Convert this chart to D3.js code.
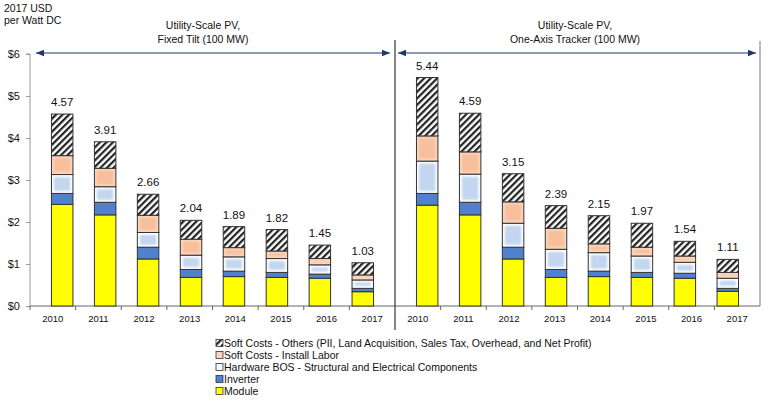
<!DOCTYPE html>
<html><head><meta charset="utf-8">
<script src="https://cdn.jsdelivr.net/npm/d3@7"></script>
<style>body{margin:0;background:#fff}svg{display:block;font-family:"Liberation Sans",Arial,sans-serif}</style>
</head><body><svg id="c" width="768" height="402"></svg>
<script>
const years = ["2010","2011","2012","2013","2014","2015","2016","2017"];
const panels = ["Utility-Scale PV,|Fixed Tilt (100 MW)", "Utility-Scale PV,|One-Axis Tracker (100 MW)"];
const seriesNames = ["Module","Inverter","Hardware BOS - Structural and Electrical Components","Soft Costs - Install Labor","Soft Costs - Others (PII, Land Acquisition, Sales Tax, Overhead, and Net Profit)"];
// Fixed tilt
const fixedModule   = [2.42,2.17,1.12,0.68,0.70,0.68,0.66,0.34];
const fixedInverter = [0.26,0.30,0.28,0.19,0.13,0.12,0.10,0.08];
const fixedBOS      = [0.45,0.37,0.35,0.34,0.34,0.33,0.22,0.20];
const fixedLabor    = [0.45,0.44,0.41,0.38,0.22,0.18,0.15,0.12];
const fixedOthers   = [0.99,0.63,0.50,0.45,0.50,0.51,0.32,0.29];
const fixedTotals   = [4.57,3.91,2.66,2.04,1.89,1.82,1.45,1.03];
// One-axis tracker
const trackModule   = [2.40,2.17,1.12,0.68,0.70,0.68,0.66,0.35];
const trackInverter = [0.28,0.30,0.28,0.19,0.13,0.12,0.12,0.07];
const trackBOS      = [0.77,0.67,0.57,0.48,0.44,0.39,0.26,0.24];
const trackLabor    = [0.60,0.53,0.51,0.50,0.21,0.21,0.15,0.14];
const trackOthers   = [1.39,0.92,0.67,0.54,0.67,0.57,0.35,0.31];
const trackTotals   = [5.44,4.59,3.15,2.39,2.15,1.97,1.54,1.11];
const yTicks = [0,1,2,3,4,5,6];

const svg = d3.select("#c");
const defs = svg.append("defs");
const hp = defs.append("pattern").attr("id","hatch").attr("patternUnits","userSpaceOnUse")
  .attr("width",4.6).attr("height",4.6).attr("patternTransform","rotate(45)");
hp.append("rect").attr("width",4.6).attr("height",4.6).attr("fill","#fff");
hp.append("rect").attr("x",0).attr("width",2.2).attr("height",4.6).attr("fill","#222");
defs.append("filter").attr("id","blur").attr("x","-20%").attr("y","-20%").attr("width","140%").attr("height","140%")
  .append("feGaussianBlur").attr("stdDeviation",1.1);

const y = d3.scaleLinear().domain([0,6]).range([306,54]);
const x0 = 30, x1 = 395, x2 = 760;
const xs = [d3.scaleBand().domain(years).range([x0,x1]).padding(0.5),
            d3.scaleBand().domain(years).range([x1,x2]).padding(0.5)];
const xsOuter = [d3.scaleBand().domain(years).range([x0,x1]),
                 d3.scaleBand().domain(years).range([x1,x2])];

const styles = [
  {base:"#FFFF00", inner:null},
  {base:"#4F81CF", inner:null},
  {base:"#FFFFFF", inner:"#C2D6EF"},
  {base:"#FBD6BC", inner:"#F7BF9B"},
  {base:"url(#hatch)", inner:null}
];
const data = [
  [fixedModule,fixedInverter,fixedBOS,fixedLabor,fixedOthers],
  [trackModule,trackInverter,trackBOS,trackLabor,trackOthers]
];
const totals = [fixedTotals, trackTotals];

// y axis
const yAxis = d3.axisLeft(y).tickValues(yTicks).tickFormat(d=>"$"+d).tickSize(4).tickPadding(6);
const ya = svg.append("g").attr("transform",`translate(${x0},0)`).call(yAxis);
ya.select(".domain").attr("stroke","#999").attr("d",`M-4,${y(6)}H0V${y(0)}`);
ya.selectAll(".tick line").attr("stroke","#999");
ya.selectAll("text").attr("font-size",11).attr("fill","#111").attr("font-family","Liberation Sans, Arial");

// x axis
svg.append("line").attr("x1",x0).attr("x2",x2).attr("y1",y(0)).attr("y2",y(0)).attr("stroke","#666");
[0,1].forEach(p=>{
  const xo = xsOuter[p];
  years.forEach((yr,i)=>{
    if(i>0) svg.append("line").attr("x1",xo(yr)).attr("x2",xo(yr)).attr("y1",y(0)).attr("y2",y(0)+4).attr("stroke","#666");
    svg.append("text").attr("x",xo(yr)+xo.bandwidth()/2).attr("y",y(0)+16).attr("text-anchor","middle")
      .attr("font-size",9.5).attr("fill","#111").text(yr);
  });
});
svg.append("line").attr("x1",x0).attr("x2",x0).attr("y1",y(0)).attr("y2",y(0)+4).attr("stroke","#666");

// bars
[0,1].forEach(p=>{
  const xb = xs[p];
  const g = svg.append("g");
  years.forEach((yr,i)=>{
    let cum = 0;
    data[p].forEach((ser,s)=>{
      const v = ser[i];
      const yt = y(cum+v), yb = y(cum);
      const st = styles[s];
      g.append("rect").attr("x",xb(yr)).attr("y",yt).attr("width",xb.bandwidth()).attr("height",yb-yt)
        .attr("fill",st.base);
      if(st.inner && yb-yt>5){
        g.append("rect").attr("x",xb(yr)+2.5).attr("y",yt+2.5).attr("width",xb.bandwidth()-5).attr("height",Math.max(0,yb-yt-5))
          .attr("fill",st.inner).attr("filter","url(#blur)");
      }
      g.append("rect").attr("x",xb(yr)).attr("y",yt).attr("width",xb.bandwidth()).attr("height",yb-yt)
        .attr("fill","none").attr("stroke","#333").attr("stroke-width",1);
      cum += v;
    });
    g.append("text").attr("x",xb(yr)+xb.bandwidth()/2).attr("y",y(totals[p][i])-8).attr("text-anchor","middle")
      .attr("font-size",11.5).attr("fill","#111").text(totals[p][i].toFixed(2));
  });
});

// dividers
svg.append("line").attr("x1",x1).attr("x2",x1).attr("y1",40).attr("y2",330).attr("stroke","#333").attr("stroke-width",1.2);
svg.append("line").attr("x1",x2).attr("x2",x2).attr("y1",41).attr("y2",y(0)).attr("stroke","#8a8aa8").attr("stroke-width",1.2);

// arrows
defs.append("marker").attr("id","ah").attr("viewBox","0 0 10 10").attr("refX",10).attr("refY",5)
  .attr("markerWidth",7).attr("markerHeight",7).attr("orient","auto-start-reverse")
  .append("path").attr("d","M0,1L10,5L0,9Z").attr("fill","#1f3864");
const arrowY = 53;
[[36,390],[398,756]].forEach(([a,b])=>{
  svg.append("line").attr("x1",a).attr("x2",b).attr("y1",arrowY).attr("y2",arrowY)
    .attr("stroke","#1f3864").attr("stroke-width",1.2)
    .attr("marker-start","url(#ah)").attr("marker-end","url(#ah)");
});
// panel titles
[[203,0],[575,1]].forEach(([cx,p])=>{
  const lines = panels[p].split("|");
  lines.forEach((t,k)=>svg.append("text").attr("x",cx).attr("y",29+k*14).attr("text-anchor","middle")
    .attr("font-size",10.5).attr("fill","#111").text(t));
});
// axis title
svg.append("text").attr("x",4).attr("y",12).attr("font-size",10.5).attr("fill","#111").text("2017 USD");
svg.append("text").attr("x",4).attr("y",24).attr("font-size",10.5).attr("fill","#111").text("per Watt DC");

// legend
const legOrder = [4,3,2,1,0];
legOrder.forEach((s,k)=>{
  const ly = 343 + k*12;
  const st = styles[s];
  svg.append("rect").attr("x",216).attr("y",ly-3.5).attr("width",7).attr("height",7)
    .attr("fill", s===2 ? "#F4F8FC" : st.base).attr("stroke","#333").attr("stroke-width",0.8);
  svg.append("text").attr("x",224).attr("y",ly+3.5).attr("font-size",10.5).attr("fill","#111").text(seriesNames[s]);
});
</script></body></html>
